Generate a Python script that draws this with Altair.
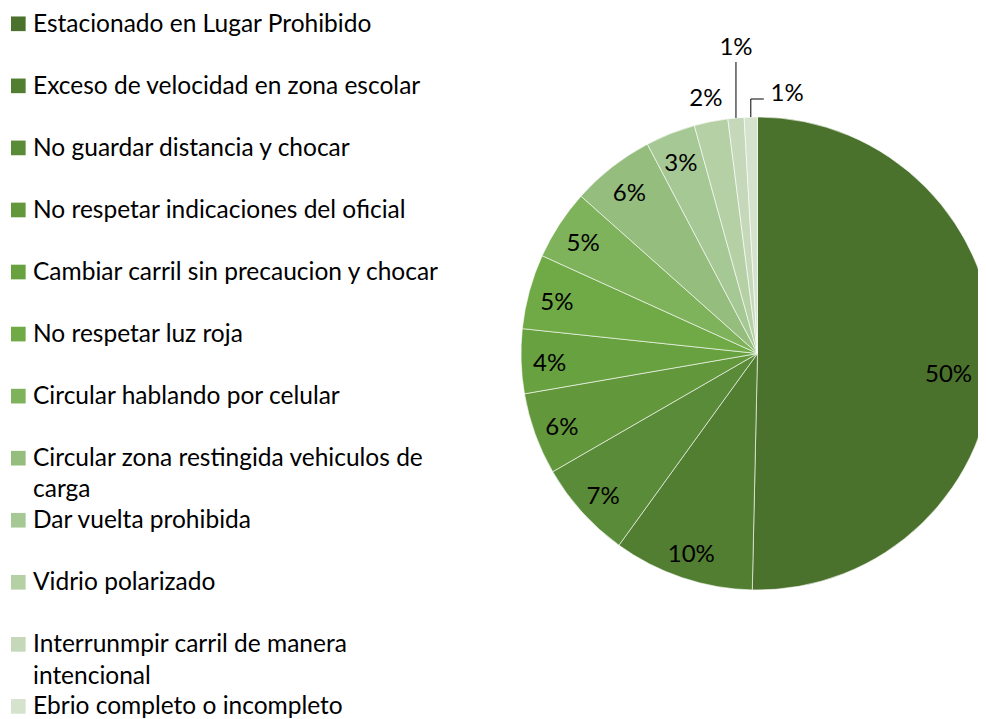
import altair as alt
import pandas as pd

categories = [
    "Estacionado en Lugar Prohibido",
    "Exceso de velocidad en zona escolar",
    "No guardar distancia y chocar",
    "No respetar indicaciones del oficial",
    "Cambiar carril sin precaucion y chocar",
    "No respetar luz roja",
    "Circular hablando por celular",
    "Circular zona restingida vehiculos de carga",
    "Dar vuelta prohibida",
    "Vidrio polarizado",
    "Interrunmpir carril de manera intencional",
    "Ebrio completo o incompleto",
]
values = [50.3, 9.6, 6.7, 5.6, 4.4, 5.1, 4.8, 5.7, 3.4, 2.3, 1.1, 0.9]
colors = [
    "#4A722C", "#527E32", "#5A8B38", "#62973C", "#68A13F", "#70AA46",
    "#7EB25B", "#95BD7E", "#A6C894", "#B6D0A6", "#C5D9BA", "#D5E2CD",
]

df = pd.DataFrame({"cat": categories, "value": values, "idx": list(range(len(values)))})

W, H = 970, 711
CX, CY, R = 749.5, 345.5, 236.5
FONT = "Lato"
FS = 24
LFS = 24.5

color_scale = alt.Scale(domain=categories, range=colors)

base = (
    alt.Chart(df)
    .transform_joinaggregate(total="sum(value)")
    .transform_window(cum="sum(value)", sort=[alt.SortField("idx", order="ascending")], frame=[None, 0])
    .transform_calculate(
        mid="2*PI*(datum.cum - datum.value/2)/datum.total",
        pct="datum.value/datum.total",
    )
    .transform_calculate(
        ex=f"{CX} + {R}*sin(datum.mid)",
        ey=f"{CY} - {R}*cos(datum.mid)",
    )
)

pie = alt.Chart(df).mark_arc(outerRadius=R, stroke="white", strokeWidth=0.6).encode(
    theta=alt.Theta("value:Q", stack=True),
    order=alt.Order("idx:Q", sort="ascending"),
    color=alt.Color("cat:N", scale=color_scale, legend=None),
    x=alt.value(CX),
    y=alt.value(CY),
)

# legend drawn as marks on an index scale
leg_y = alt.Y("idx:Q", scale=alt.Scale(domain=[0, len(categories) - 1], range=[15.8, 698.4]), axis=None)
leg_sq = alt.Chart(df).mark_square(size=215, opacity=1, strokeWidth=0).encode(
    x=alt.value(10.3),
    y=leg_y,
    color=alt.Color("cat:N", scale=color_scale, legend=None),
)
leg_txt = (
    alt.Chart(df)
    .transform_calculate(
        cut="lastindexof(substring(datum.cat, 0, 38), ' ')",
    )
    .transform_calculate(
        lab="length(datum.cat) > 40 ? substring(datum.cat, 0, datum.cut) + '\\n' + substring(datum.cat, datum.cut + 1) : datum.cat",
    )
    .mark_text(font=FONT, fontSize=LFS, color="black", align="left", baseline="top",
               lineBreak="\n", lineHeight=31.5, dy=-11.3)
    .encode(x=alt.value(25), y=leg_y, text="lab:N")
)


def polar_text(filt, r, dy=4, **kw):
    return (
        base.transform_filter(filt)
        .transform_calculate(lx=f"{CX} + {r}*sin(datum.mid)", ly=f"{CY} - {r}*cos(datum.mid)")
        .mark_text(font=FONT, fontSize=FS, color="black", dy=dy, **kw)
        .encode(
            x=alt.X("lx:Q", scale=None),
            y=alt.Y("ly:Q", scale=None),
            text=alt.Text("pct:Q", format=".0%"),
        )
    )


inner = polar_text("datum.pct >= 0.03 && datum.pct < 0.4", 208)
big = polar_text("datum.pct >= 0.4", 191, dy=19)
out2 = polar_text("datum.idx == 9", 262, dy=2)

lab10 = (
    base.transform_filter("datum.idx == 10")
    .transform_calculate(ly=f"{CY} - 306.5")
    .mark_text(font=FONT, fontSize=FS, color="black", dy=1)
    .encode(x=alt.X("ex:Q", scale=None), y=alt.Y("ly:Q", scale=None), text=alt.Text("pct:Q", format=".0%"))
)
rule10 = (
    base.transform_filter("datum.idx == 10")
    .transform_calculate(ly=f"{CY} - 291.5")
    .mark_rule(color="black", strokeWidth=1)
    .encode(x=alt.X("ex:Q", scale=None), y=alt.Y("ey:Q", scale=None), y2="ly:Q")
)

lab11 = (
    base.transform_filter("datum.idx == 11")
    .transform_calculate(lx="datum.ex + 19.7", ly=f"{CY} - 260.5")
    .mark_text(font=FONT, fontSize=FS, color="black", align="left", dy=1)
    .encode(x=alt.X("lx:Q", scale=None), y=alt.Y("ly:Q", scale=None), text=alt.Text("pct:Q", format=".0%"))
)
rule11v = (
    base.transform_filter("datum.idx == 11")
    .transform_calculate(ly=f"{CY} - 254.5")
    .mark_rule(color="black", strokeWidth=1)
    .encode(x=alt.X("ex:Q", scale=None), y=alt.Y("ey:Q", scale=None), y2="ly:Q")
)
rule11h = (
    base.transform_filter("datum.idx == 11")
    .transform_calculate(ly=f"{CY} - 254.5", lx2="datum.ex + 13")
    .mark_rule(color="black", strokeWidth=1)
    .encode(x=alt.X("ex:Q", scale=None), x2="lx2:Q", y=alt.Y("ly:Q", scale=None))
)

chart = (
    alt.layer(pie, inner, big, out2, lab10, rule10, lab11, rule11v, rule11h, leg_sq, leg_txt)
    .properties(width=W, height=H, padding=0, autosize="none", background="white")
    .configure_view(strokeWidth=0, stroke="transparent")
)

chart.save("out.html", embed_options={"renderer": "svg", "actions": False})
